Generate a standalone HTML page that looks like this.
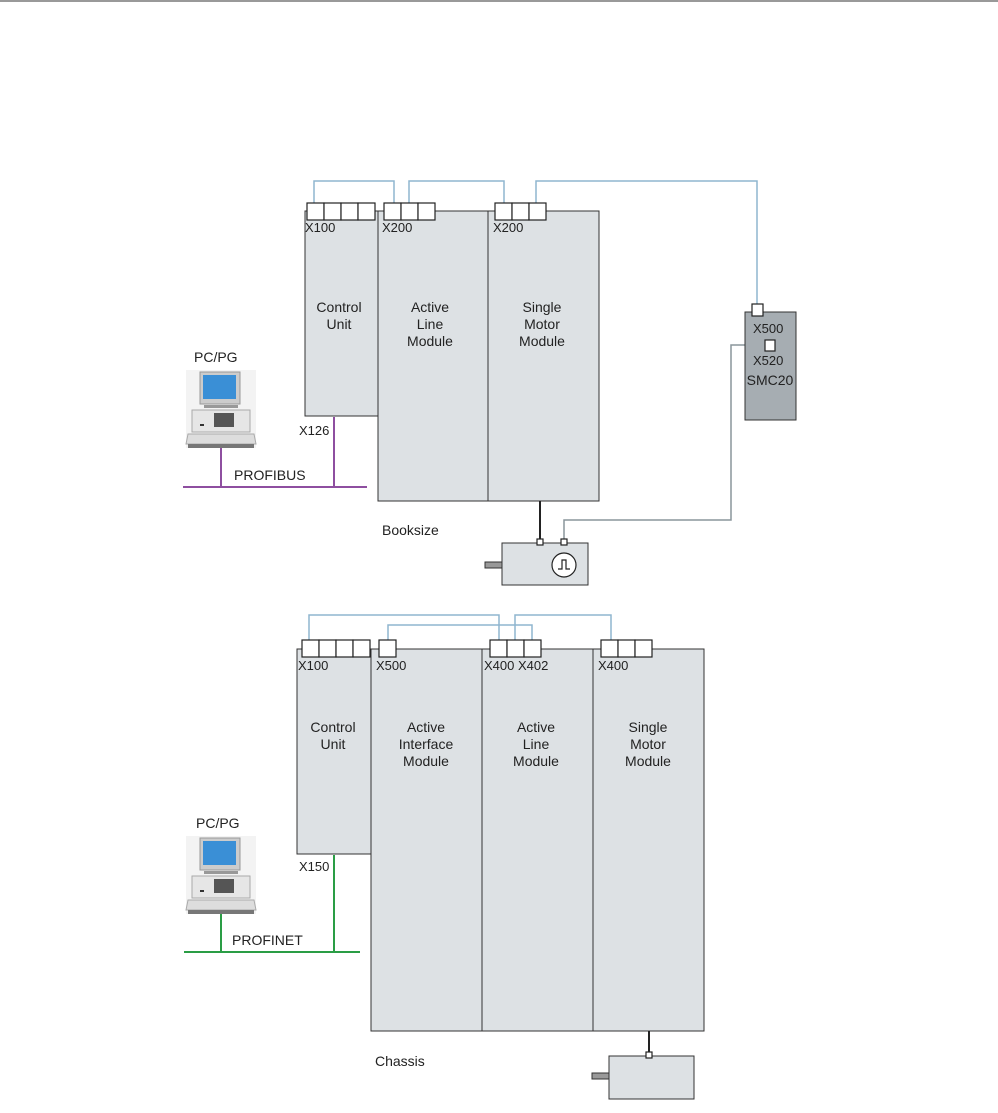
<!DOCTYPE html>
<html><head><style>
body{margin:0;background:#fff}
svg text{font-family:"Liberation Sans",sans-serif;fill:#222}
</style></head><body>
<svg width="998" height="1108" viewBox="0 0 998 1108" xmlns="http://www.w3.org/2000/svg">
<line x1="0" y1="1" x2="998" y2="1" stroke="#333" stroke-width="1"/>
<defs>
<g id="pc">
<rect x="0" y="0" width="70" height="78" fill="#f3f3f3"/>
<rect x="14" y="2" width="40" height="32" fill="#ccc" stroke="#999"/>
<rect x="17" y="5" width="33" height="24" fill="#3a8fd6"/>
<rect x="18" y="35" width="34" height="3" fill="#999"/>
<rect x="6" y="40" width="58" height="22" fill="#e6e6e6" stroke="#aaa"/>
<rect x="28" y="43" width="20" height="14" fill="#555"/>
<rect x="14" y="54" width="4" height="2" fill="#333"/>
<polygon points="2,64 68,64 70,74 0,74" fill="#ddd" stroke="#aaa"/>
<rect x="2" y="74" width="66" height="4" fill="#777"/>
</g>
</defs>
<g fill="none" stroke="#8fb6cf" stroke-width="1.5">
<polyline points="314,203 314,181 394,181 394,203"/>
<polyline points="409,203 409,181 504,181 504,203"/>
<polyline points="536,203 536,181 757,181 757,304"/>
<polyline points="309,640 309,615 499,615 499,640"/>
<polyline points="388,640 388,625 532,625 532,640"/>
<polyline points="515,640 515,615 611,615 611,640"/>
</g>
<polyline points="765,345 731,345 731,520 564,520 564,540" fill="none" stroke="#8a959c" stroke-width="1.5"/>
<g stroke="#333" stroke-width="1" fill="#dde1e4">
<rect x="305" y="211" width="73" height="205"/>
<rect x="378" y="211" width="110" height="290"/>
<rect x="488" y="211" width="111" height="290"/>
<rect x="745" y="312" width="51" height="108" fill="#a6adb2"/>
<rect x="485" y="562" width="17" height="6" fill="#999"/>
<rect x="502" y="543" width="86" height="42"/>
<rect x="297" y="649" width="74" height="205"/>
<rect x="371" y="649" width="111" height="382"/>
<rect x="482" y="649" width="111" height="382"/>
<rect x="593" y="649" width="111" height="382"/>
<rect x="592" y="1073" width="17" height="6" fill="#999"/>
<rect x="609" y="1056" width="85" height="43"/>
</g>
<g stroke="#222" stroke-width="1.2" fill="#fff">
<rect x="307" y="203" width="17" height="17"/><rect x="324" y="203" width="17" height="17"/><rect x="341" y="203" width="17" height="17"/><rect x="358" y="203" width="17" height="17"/>
<rect x="384" y="203" width="17" height="17"/><rect x="401" y="203" width="17" height="17"/><rect x="418" y="203" width="17" height="17"/>
<rect x="495" y="203" width="17" height="17"/><rect x="512" y="203" width="17" height="17"/><rect x="529" y="203" width="17" height="17"/>
<rect x="752" y="304" width="11" height="12"/>
<rect x="765" y="340" width="10" height="11"/>
<rect x="302" y="640" width="17" height="17"/><rect x="319" y="640" width="17" height="17"/><rect x="336" y="640" width="17" height="17"/><rect x="353" y="640" width="17" height="17"/>
<rect x="379" y="640" width="17" height="17"/>
<rect x="490" y="640" width="17" height="17"/><rect x="507" y="640" width="17" height="17"/><rect x="524" y="640" width="17" height="17"/>
<rect x="601" y="640" width="17" height="17"/><rect x="618" y="640" width="17" height="17"/><rect x="635" y="640" width="17" height="17"/>
<rect x="537" y="539" width="6" height="6"/><rect x="561" y="539" width="6" height="6"/>
<rect x="646" y="1052" width="6" height="6"/>
<circle cx="564" cy="565" r="12"/>
</g>
<polyline points="558,569 562,569 562,560 566,560 566,569 570,569" fill="none" stroke="#222" stroke-width="1.2"/>
<line x1="540" y1="501" x2="540" y2="539" stroke="#222" stroke-width="2"/>
<line x1="649" y1="1031" x2="649" y2="1052" stroke="#222" stroke-width="2"/>
<g stroke="#8e4fa0" stroke-width="2"><line x1="183" y1="487" x2="367" y2="487"/><line x1="221" y1="447" x2="221" y2="487"/><line x1="334" y1="417" x2="334" y2="487"/></g>
<g stroke="#2a9d45" stroke-width="2"><line x1="184" y1="952" x2="360" y2="952"/><line x1="221" y1="913" x2="221" y2="952"/><line x1="334" y1="855" x2="334" y2="952"/></g>
<use href="#pc" x="186" y="370"/>
<use href="#pc" x="186" y="836"/>
<g font-size="13">
<text x="305" y="232">X100</text><text x="382" y="232">X200</text><text x="493" y="232">X200</text>
<text x="299" y="435">X126</text>
<text x="753" y="333">X500</text><text x="753" y="365">X520</text>
<text x="298" y="670">X100</text><text x="376" y="670">X500</text><text x="484" y="670">X400 X402</text><text x="598" y="670">X400</text>
<text x="299" y="871">X150</text>
</g>
<g font-size="14" text-anchor="middle">
<text x="339" y="312">Control</text><text x="339" y="329">Unit</text>
<text x="430" y="312">Active</text><text x="430" y="329">Line</text><text x="430" y="346">Module</text>
<text x="542" y="312">Single</text><text x="542" y="329">Motor</text><text x="542" y="346">Module</text>
<text x="770" y="385">SMC20</text>
<text x="333" y="732">Control</text><text x="333" y="749">Unit</text>
<text x="426" y="732">Active</text><text x="426" y="749">Interface</text><text x="426" y="766">Module</text>
<text x="536" y="732">Active</text><text x="536" y="749">Line</text><text x="536" y="766">Module</text>
<text x="648" y="732">Single</text><text x="648" y="749">Motor</text><text x="648" y="766">Module</text>
</g>
<g font-size="14">
<text x="194" y="362">PC/PG</text><text x="234" y="480">PROFIBUS</text><text x="382" y="535">Booksize</text>
<text x="196" y="828">PC/PG</text><text x="232" y="945">PROFINET</text><text x="375" y="1066">Chassis</text>
</g>
</svg>
</body></html>
